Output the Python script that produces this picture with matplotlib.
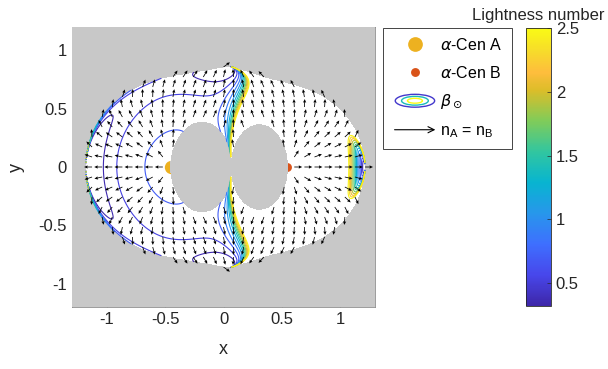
import matplotlib
matplotlib.use('Agg')
import matplotlib.pyplot as plt
import numpy as np
from matplotlib.colors import LinearSegmentedColormap, Normalize
from matplotlib.cm import ScalarMappable
from matplotlib.legend_handler import HandlerBase
from matplotlib.patches import Ellipse, FancyArrowPatch
from matplotlib.lines import Line2D

plt.rcParams['font.family'] = ['Liberation Sans', 'DejaVu Sans']
plt.rcParams['axes.unicode_minus'] = False

# alpha Centauri system (solar units)
star_names = ['$\\alpha$-Cen A', '$\\alpha$-Cen B']
star_mass = [1.1, 0.907]
star_lum = [1.519, 0.0]   # only the light of A enters the lightness number
star_colors = ['#EDB120', '#D95319']
star_sizes = [9.6, 6.4]

# contour levels of the lightness number and colour limits
beta_levels = [0.35, 0.525, 0.7, 0.875, 1.05, 1.225, 1.4, 1.575, 1.75, 1.925, 2.1, 2.275, 2.45]
beta_lim = [0.32, 2.5]
cbar_ticks = [0.5, 1, 1.5, 2, 2.5]
cbar_ticklabels = ['0.5', '1', '1.5', '2', '2.5']

x_ticks = [-1, -0.5, 0, 0.5, 1]
x_ticklabels = ['-1', '-0.5', '0', '0.5', '1']
y_ticks = [-1, -0.5, 0, 0.5, 1]
y_ticklabels = ['-1', '-0.5', '0', '0.5', '1']

# parula (MATLAB) colour anchors
parula_pos = [0, 7, 14, 21, 28, 35, 42, 49, 53, 58, 63]
parula_rgb = [(0.2422, 0.1504, 0.6603), (0.2803, 0.2782, 0.9221), (0.2440, 0.4358, 0.9988),
              (0.1540, 0.5902, 0.9218), (0.0297, 0.7082, 0.8163), (0.1938, 0.7758, 0.6251),
              (0.5044, 0.7993, 0.3480), (0.8634, 0.7406, 0.1596), (0.9956, 0.7434, 0.2371),
              (0.9676, 0.8639, 0.1643), (0.9769, 0.9839, 0.0805)]
parula = LinearSegmentedColormap.from_list(
    'parula', [(p / 63, c) for p, c in zip(parula_pos, parula_rgb)])


def sail_field(X, Y):
    """Required sail acceleration direction, lightness number and feasibility mask."""
    mu = star_mass[1] / sum(star_mass)
    xs = [-mu, 1 - mu]
    ms = [1 - mu, mu]
    gx = -X.copy()
    gy = -Y.copy()
    r, dx = [], []
    for xi, mi in zip(xs, ms):
        d = X - xi
        ri = np.hypot(d, Y)
        gx += mi * d / ri**3
        gy += mi * Y / ri**3
        r.append(ri)
        dx.append(d)
    g = np.hypot(gx, gy)
    nx, ny = gx / g, gy / g
    # both stars have to light the same side of the sail
    feasible = np.ones_like(X, dtype=bool)
    srp = np.zeros_like(X)
    for k in range(2):
        c = (dx[k] * nx + Y * ny) / r[k]
        feasible &= c >= 0
        kappa = star_lum[k] / star_mass[k]
        srp += kappa * ms[k] / r[k]**2 * c**2
    with np.errstate(divide='ignore', invalid='ignore'):
        beta = g / srp
    return nx, ny, beta, feasible, xs


class ContourIcon(HandlerBase):
    def create_artists(self, legend, orig_handle, xdescent, ydescent, width, height, fontsize, trans):
        cx = width / 2 - xdescent
        cy = height / 2 - ydescent
        arts = []
        for frac, val in zip([1.0, 0.68, 0.38], [0.45, 1.4, 2.5]):
            arts.append(Ellipse((cx, cy), width * 0.85 * frac, height * 1.15 * frac, fill=False,
                                edgecolor=parula((val - beta_lim[0]) / (beta_lim[1] - beta_lim[0])),
                                lw=1.0, transform=trans))
        return arts


class ArrowIcon(HandlerBase):
    def create_artists(self, legend, orig_handle, xdescent, ydescent, width, height, fontsize, trans):
        cy = height / 2 - ydescent
        a = FancyArrowPatch((-xdescent, cy), (width - xdescent, cy), arrowstyle='->',
                            mutation_scale=11, lw=0.8, color='k', transform=trans)
        return [a]


fig = plt.figure(figsize=(6.08, 3.69), dpi=100)
ax = fig.add_axes([71 / 608, 62 / 369, 305 / 608, 280 / 369])
ax.set_facecolor('#c8c8c8')

# fine grid for the region and the contours
xg = np.linspace(-1.3, 1.3, 1041)
yg = np.linspace(-1.2, 1.2, 961)
X, Y = np.meshgrid(xg, yg)
nx, ny, beta, feasible, xs = sail_field(X, Y)

ax.contourf(X, Y, feasible.astype(float), levels=[0.5, 1.5], colors='white', zorder=1)
for xi, col, sz in zip(xs, star_colors, star_sizes):
    ax.plot(xi, 0, 'o', color=col, ms=sz, mec='none', zorder=2)
ax.contourf(X, Y, feasible.astype(float), levels=[-0.5, 0.5], colors='#c8c8c8', zorder=3)

beta_m = np.ma.masked_where(~feasible | ~np.isfinite(beta), beta)
norm = Normalize(beta_lim[0], beta_lim[1])
ax.contour(X, Y, beta_m, levels=beta_levels, cmap=parula, norm=norm, linewidths=0.8, zorder=4)

# coarse grid for the normal directions
qx = np.linspace(-1.3, 1.3, 31)
qy = np.linspace(-1.2, 1.2, 29)
QX, QY = np.meshgrid(qx, qy)
qnx, qny, _, qfeas, _ = sail_field(QX, QY)
ax.quiver(QX[qfeas], QY[qfeas], qnx[qfeas], qny[qfeas], angles='xy', scale_units='xy',
          scale=1 / 0.068, width=0.0026, headwidth=4.2, headlength=4.5, headaxislength=4.0,
          color='k', zorder=5)

ax.set_xlim(-1.3, 1.3)
ax.set_ylim(-1.2, 1.2)
ax.set_aspect('equal')
ax.set_xticks(x_ticks, x_ticklabels)
ax.set_yticks(y_ticks, y_ticklabels)
ax.tick_params(direction='in', length=3, labelsize=12, labelcolor='0.15', color='0.5', width=0.5)
for s in ax.spines.values():
    s.set_color('0.55')
    s.set_linewidth(0.6)
ax.set_xlabel('x', fontsize=13, color='0.15', labelpad=10)
ax.set_ylabel('y', fontsize=13, color='0.15', labelpad=10)

# legend
hA = Line2D([], [], ls='none', marker='o', color=star_colors[0], ms=star_sizes[0] + 1, mec='none')
hB = Line2D([], [], ls='none', marker='o', color=star_colors[1], ms=star_sizes[1], mec='none')
hC = Line2D([], [])
hQ = Line2D([], [])
leg = fig.legend([hA, hB, hC, hQ],
                 star_names + ['$\\beta_\\odot$', 'n$_\\mathregular{A}$ = n$_\\mathregular{B}$'],
                 handler_map={hC: ContourIcon(), hQ: ArrowIcon()},
                 loc='upper left', bbox_to_anchor=(383 / 608, 1 - 28 / 369),
                 bbox_transform=fig.transFigure, fontsize=11.5, frameon=True, fancybox=False,
                 framealpha=1, edgecolor='0.15', borderaxespad=0, handlelength=2.9,
                 handletextpad=0.15, labelspacing=0.75, borderpad=0.55)
leg.get_frame().set_linewidth(0.6)

# colorbar
cax = fig.add_axes([526 / 608, 63 / 369, 25 / 608, 278 / 369])
cb = fig.colorbar(ScalarMappable(norm=norm, cmap=parula), cax=cax, ticks=cbar_ticks)
cb.set_ticklabels(cbar_ticklabels)
cb.ax.tick_params(direction='in', length=3, labelsize=12, colors='0.15', width=0.5)
cb.outline.set_linewidth(0.6)
cb.outline.set_edgecolor('0.15')
cax.set_title('Lightness number', fontsize=12, pad=6, color='0.15')

fig.savefig('out.png', dpi=100)
